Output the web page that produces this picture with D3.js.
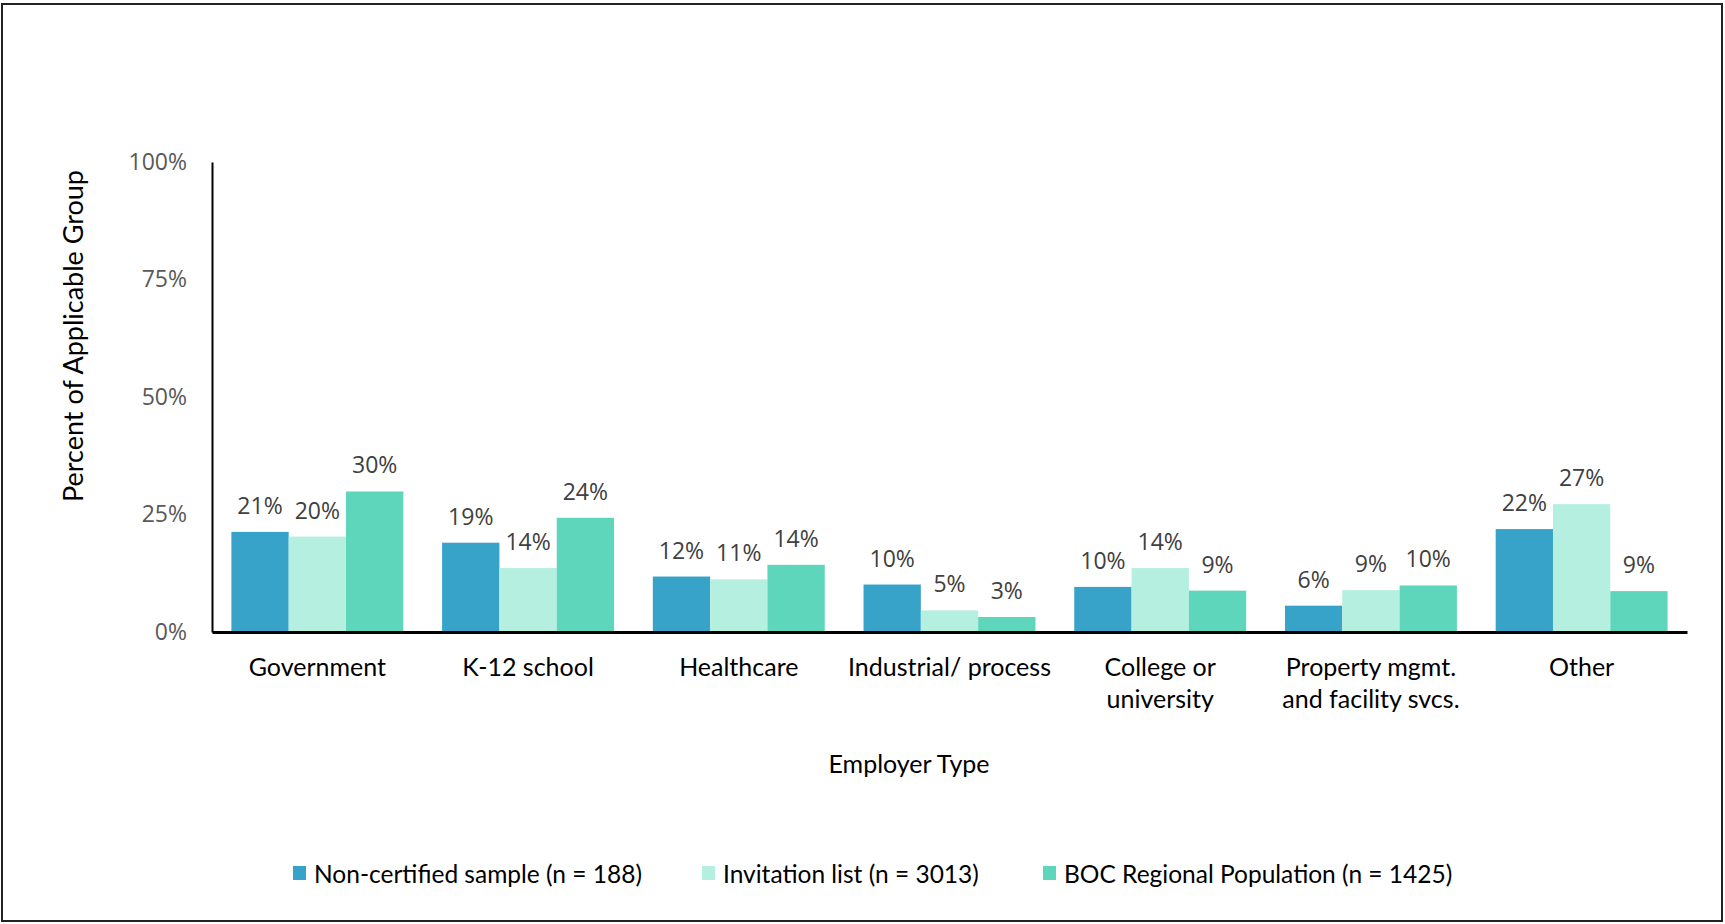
<!DOCTYPE html>
<html>
<head>
<meta charset="utf-8">
<script src="https://cdn.jsdelivr.net/npm/d3@7"></script>
<style>
  body { margin: 0; background: #fff; }
  svg { display: block; }
  .tick text { font-family: "Open Sans", sans-serif; }
</style>
</head>
<body>
<script>
// categories and series
var categories = ["Government", "K-12 school", "Healthcare", "Industrial/ process",
	"College or university", "Property mgmt. and facility svcs.", "Other"];
var categoryLines = [["Government"], ["K-12 school"], ["Healthcare"], ["Industrial/ process"],
	["College or", "university"], ["Property mgmt.", "and facility svcs."], ["Other"]];
var seriesNames = ["Non-certified sample (n = 188)", "Invitation list (n = 3013)",
	"BOC Regional Population (n = 1425)"];
var nonCertified = [0.213, 0.190, 0.118, 0.101, 0.096, 0.056, 0.219];
var invitation   = [0.203, 0.136, 0.112, 0.046, 0.136, 0.089, 0.272];
var bocRegional  = [0.299, 0.243, 0.143, 0.032, 0.088, 0.099, 0.087];
var yTicks = [0, 0.25, 0.5, 0.75, 1];
var colors = ["#38a3c9", "#b5efe0", "#5ed6bb"];

var W = 1725, H = 924;
var plotLeft = 212, plotRight = 1687, plotTop = 162, plotBottom = 632;

var svg = d3.select("body").append("svg")
	.attr("width", W)
	.attr("height", H);

// outer frame
svg.append("rect")
	.attr("x", 2).attr("y", 4)
	.attr("width", W - 5).attr("height", H - 7)
	.attr("fill", "none")
	.attr("stroke", "#222")
	.attr("stroke-width", 2);

var x0 = d3.scaleBand()
	.domain(categories)
	.range([plotLeft, plotRight])
	.paddingInner(0.184)
	.paddingOuter(0.092);

var x1 = d3.scaleBand()
	.domain(seriesNames)
	.range([0, x0.bandwidth()]);

var y = d3.scaleLinear()
	.domain([0, 1])
	.range([plotBottom, plotTop]);

var rows = categories.map(function (c, i) {
	return { cat: c, values: [nonCertified[i], invitation[i], bocRegional[i]] };
});

// bars
var groups = svg.selectAll(".group")
	.data(rows)
	.enter()
	.append("g")
	.attr("class", "group")
	.attr("transform", function (d) { return "translate(" + x0(d.cat) + ",0)"; });

var cells = groups.selectAll(".bar")
	.data(function (d) {
		return d.values.map(function (v, j) { return { name: seriesNames[j], v: v, j: j }; });
	})
	.enter();

cells.append("rect")
	.attr("class", "bar")
	.attr("x", function (d) { return x1(d.name); })
	.attr("y", function (d) { return y(d.v); })
	.attr("width", x1.bandwidth())
	.attr("height", function (d) { return plotBottom - y(d.v); })
	.attr("fill", function (d) { return colors[d.j]; });

// data labels
cells.append("text")
	.attr("x", function (d) { return x1(d.name) + x1.bandwidth() / 2; })
	.attr("y", function (d) { return y(d.v) - 18; })
	.attr("text-anchor", "middle")
	.style("font-family", "'Open Sans', sans-serif")
	.style("font-size", "23px")
	.style("fill", "#404040")
	.text(function (d) { return d3.format(".0%")(d.v); });

// y axis
var yAxis = svg.append("g")
	.attr("transform", "translate(" + plotLeft + ",0)")
	.call(d3.axisLeft(y).tickValues(yTicks).tickSize(0).tickPadding(25).tickFormat(d3.format(".0%")));
yAxis.select(".domain").attr("stroke", "#000").attr("stroke-width", 2);
yAxis.selectAll("text")
	.style("font-size", "23px")
	.style("fill", "#595959");

// x axis
var xAxis = svg.append("g")
	.attr("transform", "translate(0," + plotBottom + ")")
	.call(d3.axisBottom(x0).tickSize(0).tickFormat(""));
xAxis.select(".domain").attr("stroke", "#000").attr("stroke-width", 3);

svg.selectAll(".catlabel")
	.data(categories)
	.enter()
	.append("text")
	.attr("class", "catlabel")
	.attr("text-anchor", "middle")
	.attr("x", function (d) { return x0(d) + x0.bandwidth() / 2; })
	.attr("y", 676)
	.style("font-family", "Lato, sans-serif")
	.style("font-size", "25px")
	.style("fill", "#000")
	.each(function (d, i) {
		var t = d3.select(this);
		categoryLines[i].forEach(function (line, k) {
			t.append("tspan")
				.attr("x", x0(d) + x0.bandwidth() / 2)
				.attr("dy", k === 0 ? 0 : 32)
				.text(line);
		});
	});

// axis titles
svg.append("text")
	.attr("transform", "translate(72,336) rotate(-90)")
	.attr("text-anchor", "middle")
	.attr("dominant-baseline", "central")
	.style("font-family", "Lato, sans-serif")
	.style("font-size", "27px")
	.text("Percent of Applicable Group");

svg.append("text")
	.attr("x", 909)
	.attr("y", 763)
	.attr("text-anchor", "middle")
	.attr("dominant-baseline", "central")
	.style("font-family", "Lato, sans-serif")
	.style("font-size", "25px")
	.text("Employer Type");

// legend
var legendX = [293, 702, 1043];
var legend = svg.selectAll(".legend")
	.data(seriesNames)
	.enter()
	.append("g")
	.attr("class", "legend")
	.attr("transform", function (d, i) { return "translate(" + legendX[i] + ",873)"; });
legend.append("rect")
	.attr("x", 0).attr("y", -7)
	.attr("width", 13).attr("height", 14)
	.attr("fill", function (d, i) { return colors[i]; });
legend.append("text")
	.attr("x", 21)
	.attr("dominant-baseline", "central")
	.style("font-family", "Lato, sans-serif")
	.style("font-size", "24.5px")
	.text(function (d) { return d; });
</script>
</body>
</html>
